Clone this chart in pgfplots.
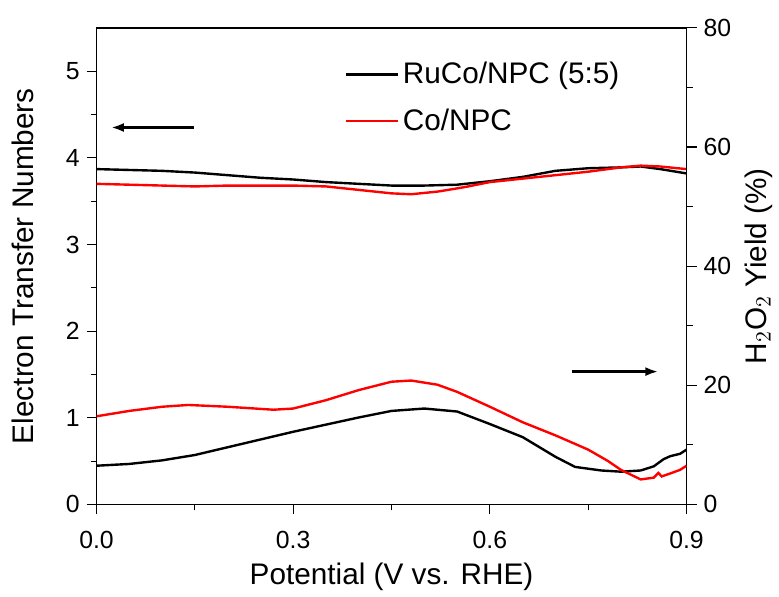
\documentclass[border=0pt]{standalone}
\usepackage{pgfplots}
\pgfplotsset{compat=1.18}
\usetikzlibrary{arrows.meta}
\usepackage{fontspec}
\setmainfont{Liberation Sans}
\begin{document}
\begin{tikzpicture}
\pgfplotsset{
  every axis/.append style={
    scale only axis, width=296.5bp, height=239.5bp,
    tick label style={font=\fontsize{12.5}{14}\selectfont},
    label style={font=\fontsize{15}{17}\selectfont},
    /pgf/number format/assume math mode=true,
    tick align=outside, major tick length=5bp, minor tick length=3bp,
    tick style={black, line width=0.6bp},
    axis line style={line width=0.7bp},
    xmin=0, xmax=0.9,
  }
}
\begin{axis}[
  ymin=0, ymax=5.5,
  xtick pos=lower, ytick pos=left,
  xtick={0,0.3,0.6,0.9}, minor xtick={0.15,0.45,0.75},
  xticklabels={0.0,0.3,0.6,0.9},
  xticklabel style={yshift=-5bp},
  ytick={0,1,2,3,4,5}, minor ytick={0.5,1.5,2.5,3.5,4.5},
  xlabel={Potential (V vs. RHE)},
  ylabel={Electron Transfer Numbers},
  xlabel style={yshift=0bp},
  ylabel shift=9bp,
  legend style={draw=none, fill=none, at={(rel axis cs:0.41,0.945)}, anchor=north west, row sep=7bp,
    font=\fontsize{15}{17}\selectfont},
  legend cell align=left,
  legend image code/.code={\draw[#1] (0bp,0bp) -- (26bp,0bp);},
]
\draw[line width=0.7bp] (rel axis cs:0,1) -- (rel axis cs:1,1);
\addplot[black, line width=1.2bp] coordinates {
(0,3.87) (0.05,3.86) (0.1,3.85) (0.15,3.83) (0.2,3.80) (0.25,3.77) (0.3,3.75) (0.35,3.72) (0.4,3.70) (0.45,3.68) (0.5,3.68) (0.55,3.69) (0.6,3.73) (0.65,3.78) (0.7,3.85) (0.75,3.88) (0.8,3.89) (0.83,3.90) (0.86,3.87) (0.9,3.82)};
\addlegendentry{RuCo/NPC (5:5)}
\addplot[red, line width=1.2bp] coordinates {
(0,3.70) (0.05,3.69) (0.1,3.68) (0.15,3.67) (0.2,3.68) (0.25,3.68) (0.3,3.68) (0.35,3.67) (0.4,3.63) (0.45,3.59) (0.48,3.58) (0.52,3.61) (0.56,3.66) (0.6,3.72) (0.65,3.76) (0.7,3.80) (0.75,3.84) (0.8,3.89) (0.83,3.91) (0.86,3.90) (0.9,3.87)};
\addlegendentry{Co/NPC}
\draw[-{Latex[length=6.5bp,width=4.5bp]}, line width=1.4bp] (axis cs:0.148,4.35) -- (axis cs:0.022,4.35);
\end{axis}
\begin{axis}[
  ymin=0, ymax=80,
  axis y line*=right, hide x axis,
  ytick={0,20,40,60,80}, minor ytick={10,30,50,70},
  ylabel={H$_2$O$_2$ Yield (\%)},
]
\addplot[black, line width=1.2bp] coordinates {
(0,6.5) (0.05,6.8) (0.1,7.4) (0.15,8.3) (0.2,9.6) (0.25,10.9) (0.3,12.2) (0.35,13.4) (0.4,14.6) (0.45,15.7) (0.5,16.1) (0.55,15.6) (0.6,13.5) (0.65,11.3) (0.7,8.0) (0.73,6.3) (0.77,5.7) (0.8,5.5) (0.83,5.7) (0.85,6.4) (0.865,7.6) (0.875,8.1) (0.89,8.5) (0.9,9.2)};
\addplot[red, line width=1.2bp] coordinates {
(0,14.8) (0.05,15.7) (0.1,16.4) (0.14,16.7) (0.2,16.4) (0.27,15.9) (0.3,16.1) (0.35,17.5) (0.4,19.2) (0.45,20.6) (0.48,20.8) (0.52,20.1) (0.55,18.9) (0.6,16.4) (0.65,13.8) (0.7,11.6) (0.75,9.2) (0.78,7.3) (0.8,5.8) (0.83,4.2) (0.85,4.5) (0.857,5.3) (0.862,4.7) (0.875,5.2) (0.89,5.8) (0.9,6.5)};
\draw[-{Latex[length=6.5bp,width=4.5bp]}, line width=1.4bp] (axis cs:0.725,22.3) -- (axis cs:0.857,22.3);
\end{axis}
\path ([shift={(-48.5bp,-41.5bp)}]current axis.south west) rectangle ([shift={(44.5bp,14bp)}]current axis.north east);
\end{tikzpicture}
\end{document}
